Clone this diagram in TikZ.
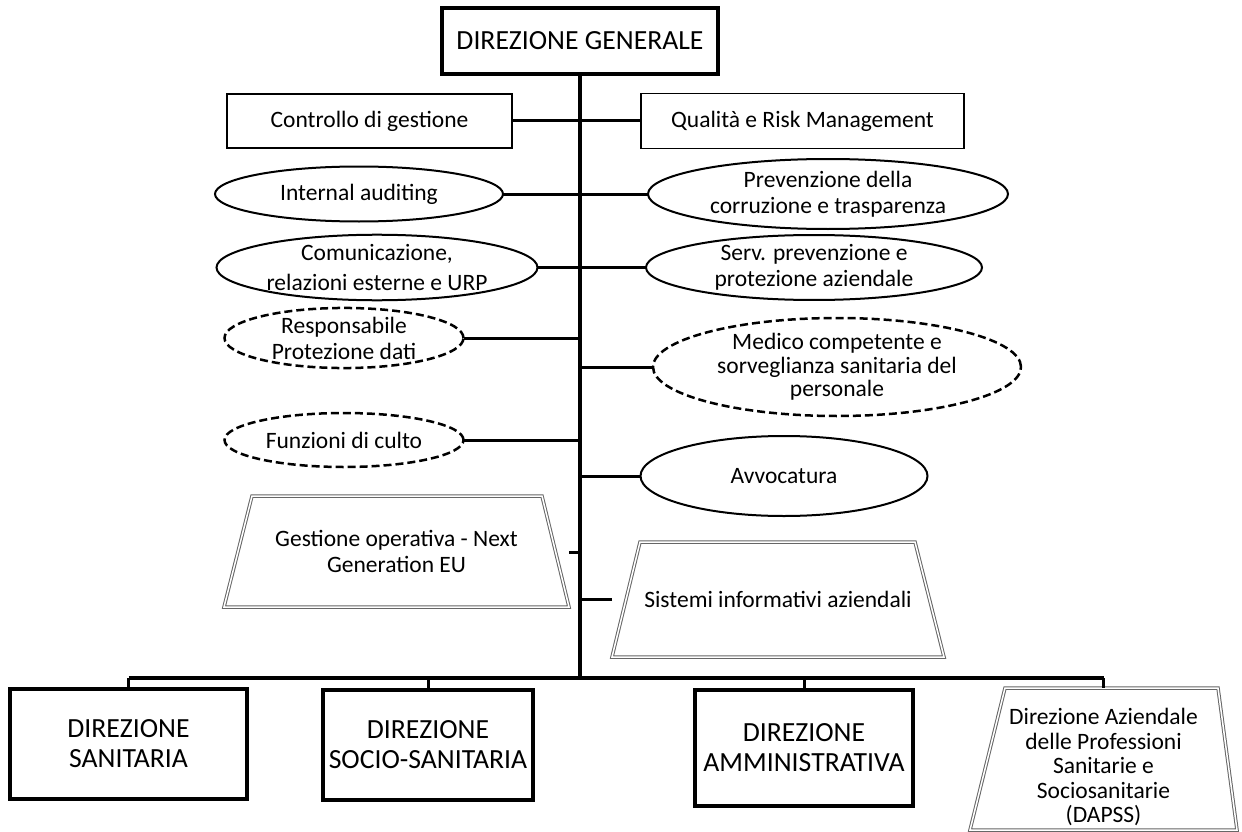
\documentclass[tikz,border=0pt]{standalone}
\usepackage{fontspec}
\setmainfont{Carlito}
\usetikzlibrary{shapes.geometric}

\begin{document}
\begin{tikzpicture}[x=1pt, y=-1pt,
  every node/.style={align=center, inner sep=0pt, outer sep=0pt, font=\fontsize{23.5}{26}\selectfont},
  big/.style={draw, line width=4pt, font=\fontsize{27.7}{30}\selectfont},
  box/.style={draw, line width=1.5pt},
  oval/.style={draw, ellipse, line width=2pt},
  doval/.style={draw, ellipse, line width=2.5pt, dash pattern=on 8pt off 4pt},
  trapline/.style={draw=black!60, line width=1pt, double=white, double distance=1.5pt},
  link/.style={line width=3pt}]
  \useasboundingbox (0,0) rectangle (1242,832);

  \node[big, minimum width=276pt, minimum height=66pt] (dg) at (580,41) {DIREZIONE GENERALE};
  \node[box, minimum width=285pt, minimum height=54pt] (cdg) at (369.5,121) {Controllo di gestione};
  \node[box, minimum width=323pt, minimum height=55pt] (qrm) at (802.5,121) {Qualità e Risk Management};
  \node[oval, minimum width=288pt, minimum height=55pt] (ia) at (359,194) {Internal auditing};
  \node[oval, minimum width=360pt, minimum height=70pt] (pct) at (828,194) {Prevenzione della\\corruzione e trasparenza};
  \node[oval, minimum width=321pt, minimum height=56pt, font=\fontsize{23.5}{30}\selectfont] (com) at (377,267.5) {Comunicazione,\\relazioni esterne e URP};
  \node[oval, minimum width=336pt, minimum height=58pt] (spp) at (814,267.5) {Serv. prevenzione e\\protezione aziendale};
  \node[doval, minimum width=239pt, minimum height=54pt] (rpd) at (344,338) {Responsabile\\Protezione dati};
  \node[doval, minimum width=368pt, minimum height=98pt, font=\fontsize{23.5}{23.5}\selectfont] (med) at (837,367) {Medico competente e\\sorveglianza sanitaria del\\personale};
  \node[doval, minimum width=239pt, minimum height=54pt] (culto) at (344,440) {Funzioni di culto};
  \node[oval, minimum width=287pt, minimum height=80pt] (avv) at (784,476) {Avvocatura};
  \node[minimum width=345pt, minimum height=111pt] (gon) at (396.5,551.5) {Gestione operativa - Next\\Generation EU};
  \node[minimum width=332pt, minimum height=115pt] (sia) at (778,599.5) {Sistemi informativi aziendali};

  \node[big, minimum width=237pt, minimum height=110pt] (ds) at (128.5,744) {DIREZIONE\\SANITARIA};
  \node[big, minimum width=210pt, minimum height=110pt] (dss) at (428,745) {DIREZIONE\\SOCIO-SANITARIA};
  \node[big, minimum width=218pt, minimum height=116pt] (da) at (804,748) {DIREZIONE\\AMMINISTRATIVA};
  \node[minimum width=267pt, minimum height=126pt, font=\fontsize{23.5}{24.5}\selectfont] (dapss) at (1103.5,767) {Direzione Aziendale\\delle Professioni\\Sanitarie e\\Sociosanitarie\\(DAPSS)};

  % trapezi a doppia linea
  \draw[trapline] ([xshift=28pt]gon.north west) -- ([xshift=-27pt]gon.north east) -- (gon.south east) -- (gon.south west) -- cycle;
  \draw[trapline] ([xshift=28pt]sia.north west) -- ([xshift=-29pt]sia.north east) -- (sia.south east) -- (sia.south west) -- cycle;
  \draw[trapline] ([xshift=35pt, yshift=16pt]dapss.north west) -- ([xshift=-19pt, yshift=16pt]dapss.north east) -- (dapss.south east) -- (dapss.south west) -- cycle;

  \coordinate (bus) at (580,678);
  \coordinate (dtop) at ([yshift=16pt]dapss.north);
  \coordinate (gonend) at (569,552);
  \coordinate (siaend) at (612,599);

  % tronco e bus
  \draw[line width=4pt] (dg.south) -- (bus);
  \draw[line width=4pt] (ds.north |- bus) -- (dtop |- bus);
  \draw[link] (ds.north |- bus) -- (ds.north);
  \draw[link] (dss.north |- bus) -- (dss.north);
  \draw[link] (da.north |- bus) -- (da.north);
  \draw[link] (dtop |- bus) -- (dtop);

  % staff
  \draw[link] (cdg.east) -- (cdg.east -| dg.south);
  \draw[link] (qrm.west) -- (qrm.west -| dg.south);
  \draw[link] (ia.east) -- (ia.east -| dg.south);
  \draw[link] (pct.west) -- (pct.west -| dg.south);
  \draw[link] (com.east) -- (com.east -| dg.south);
  \draw[link] (spp.west) -- (spp.west -| dg.south);
  \draw[link] (rpd.east) -- (rpd.east -| dg.south);
  \draw[link] (med.west) -- (med.west -| dg.south);
  \draw[link] (culto.east) -- (culto.east -| dg.south);
  \draw[link] (avv.west) -- (avv.west -| dg.south);
  \draw[link] (gonend) -- (gonend -| dg.south);
  \draw[link] (siaend) -- (siaend -| dg.south);
\end{tikzpicture}
\end{document}
